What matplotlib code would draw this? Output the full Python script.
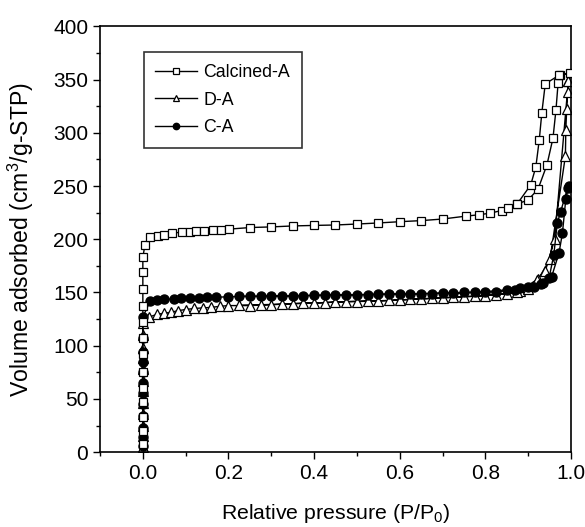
#============================IMPORTS================================
import matplotlib
matplotlib.use("Agg")
import matplotlib.pyplot as plt
from matplotlib.ticker import MultipleLocator

#=============================DATA==================================
# Calcined-A : adsorption branch then desorption branch
calc_x = [0, 0, 0, 0, 0, 0, 0, 0, 0, 0, 0, 0, 0, 0.005,
          0.017, 0.035, 0.05, 0.069, 0.092, 0.11, 0.125, 0.143, 0.164, 0.183, 0.201,
          0.25, 0.30, 0.35, 0.40, 0.45, 0.50, 0.55, 0.60, 0.65, 0.70,
          0.754, 0.785, 0.811, 0.838, 0.854, 0.874, 0.90, 0.923, 0.944, 0.958, 0.965,
          0.97, 0.975, 0.997,
          0.972, 0.94, 0.932, 0.926, 0.918, 0.906, 0.874]
calc_y = [8, 20, 33, 47, 60, 75, 92, 107, 122, 137, 153, 169, 183, 195,
          202, 203, 204, 206, 206.5, 207, 207.5, 208, 208.5, 209, 209.5,
          211, 211.6, 212.5, 213, 213.4, 214.3, 215.3, 216.5, 217.5, 219,
          221.7, 223, 224.5, 227, 229, 233, 237, 247, 270, 295, 321.6,
          347, 354, 356,
          354, 346, 319, 293.5, 268, 251, 233]

# D-A
da_x = [0, 0, 0, 0, 0, 0, 0, 0, 0, 0, 0, 0,
        0.015, 0.033, 0.05, 0.066, 0.083, 0.10, 0.12, 0.14, 0.16, 0.18, 0.20,
        0.25, 0.30, 0.35, 0.40, 0.45, 0.50, 0.55, 0.60, 0.65, 0.70, 0.75, 0.80,
        0.85, 0.88, 0.90, 0.924, 0.951, 0.987, 0.988, 0.99, 0.992, 0.994, 1.0,
        0.994, 0.962, 0.94, 0.92, 0.875, 0.825, 0.775, 0.725, 0.675, 0.625,
        0.575, 0.525, 0.475, 0.425, 0.375, 0.325, 0.275, 0.225]
da_y = [5, 15, 25, 36, 46, 57, 67, 78, 88, 98, 110, 121,
        127, 129.5, 130.5, 131.4, 133, 134, 135, 135.5, 136, 137, 137.7,
        137.7, 138.5, 139.5, 140, 141, 141.5, 142, 143, 144, 145, 146, 147,
        149, 151, 153, 162.7, 181.4, 278, 303, 322, 338, 349, 352,
        349, 200, 170, 162, 150, 148, 146.5, 145.5, 144.5, 143.5,
        142.5, 142, 141.5, 140.5, 140, 139, 138.5, 138]

# C-A
ca_x = [0, 0, 0, 0, 0, 0, 0, 0, 0, 0, 0, 0,
        0.017, 0.033, 0.05, 0.072, 0.09, 0.11, 0.13, 0.15, 0.17, 0.20,
        0.25, 0.30, 0.35, 0.40, 0.45, 0.50, 0.55, 0.60, 0.65, 0.70, 0.75,
        0.80, 0.85, 0.88, 0.914, 0.935, 0.955, 0.972, 0.98, 0.988, 0.995,
        0.992, 0.976, 0.968, 0.96, 0.949, 0.929, 0.90, 0.87, 0.825, 0.775,
        0.725, 0.675, 0.625, 0.575, 0.525, 0.475, 0.425, 0.375, 0.325,
        0.275, 0.225]
ca_y = [6, 14, 23, 34, 45, 56, 65, 75, 85, 94, 107, 127,
        141.6, 143, 143.5, 144, 144.5, 145, 145, 145.5, 145.5, 146,
        146.3, 146.6, 147, 147.3, 147.6, 148, 148.3, 148.6, 149, 149.4, 150,
        150.8, 152.5, 154, 155.6, 158.7, 165, 187, 205.5, 238, 250,
        248, 226, 215, 185.6, 163.8, 158, 155, 152.5, 150.5, 150,
        149.4, 149, 148.6, 148.3, 148, 147.6, 147.3, 147, 146.6,
        146.3, 146.5]

labels = ["Calcined-A", "D-A", "C-A"]

#==============================PLOT=================================
def main():
  plt.rcParams["font.family"] = ["Liberation Sans", "DejaVu Sans"]
  plt.rcParams["mathtext.fontset"] = "custom"
  plt.rcParams["mathtext.rm"] = "Liberation Sans"
  plt.rcParams["mathtext.it"] = "Liberation Sans"

  fig = plt.figure(figsize=(5.85, 5.27), dpi=100)
  ax = fig.add_axes([0.171, 0.142, 0.805, 0.808])

  ax.plot(calc_x, calc_y, "-", color="black", lw=1.0, marker="s", ms=6,
          mfc="white", mec="black", mew=0.9, label=labels[0], zorder=3)
  ax.plot(da_x, da_y, "-", color="black", lw=1.0, marker="^", ms=6.5,
          mfc="white", mec="black", mew=0.9, label=labels[1], zorder=2)
  ax.plot(ca_x, ca_y, "-", color="black", lw=1.0, marker="o", ms=6.5,
          mfc="black", mec="black", label=labels[2], zorder=2)

  ax.set_xlim(-0.1, 1.0)
  ax.set_ylim(0, 400)
  ax.xaxis.set_major_locator(MultipleLocator(0.2))
  ax.xaxis.set_minor_locator(MultipleLocator(0.1))
  ax.yaxis.set_major_locator(MultipleLocator(50))
  ax.yaxis.set_minor_locator(MultipleLocator(25))
  ax.set_xticks([0.0, 0.2, 0.4, 0.6, 0.8, 1.0])
  ax.set_xticklabels(["0.0", "0.2", "0.4", "0.6", "0.8", "1.0"])
  ax.tick_params(which="major", direction="out", length=5, width=1,
                 labelsize=15, top=False, right=False)
  ax.tick_params(which="minor", direction="out", length=3, width=1,
                 top=False, right=False)
  for s in ax.spines.values():
    s.set_linewidth(1.2)

  ax.set_xlabel("Relative pressure (P/P$_0$)", fontsize=15.3, labelpad=14)
  ax.set_ylabel("Volume adsorbed (cm$^3$/g-STP)", fontsize=16.6, labelpad=12)

  leg = ax.legend(loc="upper left", bbox_to_anchor=(0.093, 0.939),
                  borderaxespad=0, fontsize=12.8, frameon=True, fancybox=False,
                  edgecolor="black", handlelength=2.35, handletextpad=0.35,
                  labelspacing=0.6, borderpad=0.65, markerscale=0.7)
  leg.get_frame().set_linewidth(1.2)

  fig.savefig("out.png", dpi=100)

#===================================================================
if __name__ == "__main__":
  main()
